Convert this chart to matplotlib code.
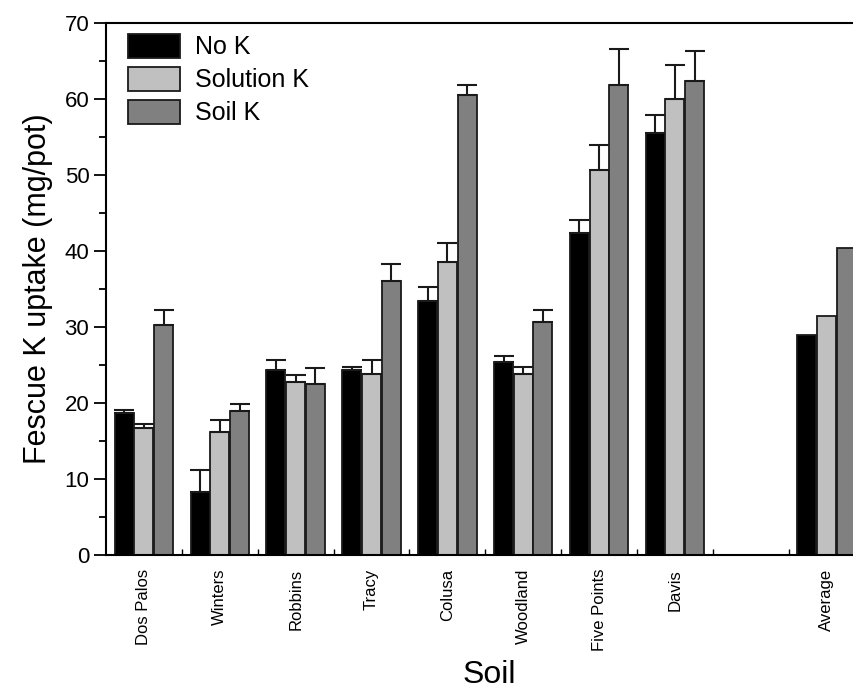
import matplotlib
matplotlib.use("Agg")
import matplotlib.pyplot as plt
import numpy as np

categories = ["Dos Palos", "Winters", "Robbins", "Tracy", "Colusa",
              "Woodland", "Five Points", "Davis", "Average"]
positions = [0, 1, 2, 3, 4, 5, 6, 7, 9]
no_k = [18.7, 8.3, 24.4, 24.4, 33.4, 25.4, 42.4, 55.5, 29.0]
solution_k = [16.7, 16.2, 22.7, 23.8, 38.6, 23.8, 50.7, 60.0, 31.5]
soil_k = [30.3, 18.9, 22.5, 36.0, 60.5, 30.7, 61.8, 62.4, 40.4]
# upper error bars (soils only, not the Average)
no_k_err = [0.4, 2.9, 1.2, 0.4, 1.8, 0.8, 1.7, 2.4]
solution_k_err = [0.5, 1.5, 1.0, 1.8, 2.4, 1.0, 3.2, 4.5]
soil_k_err = [2.0, 1.0, 2.1, 2.3, 1.3, 1.6, 4.8, 3.9]
series_names = ["No K", "Solution K", "Soil K"]

plt.rcParams['font.family'] = ['Liberation Sans', 'DejaVu Sans']

W, H = 854, 692
fig = plt.figure(figsize=(W / 100, H / 100), dpi=100)
left, right, top, bottom = 106, 854, 23, 555
ax = fig.add_axes([left / W, 1 - bottom / H, (right - left) / W, (bottom - top) / H])

colors = ["#000000", "#c0c0c0", "#808080"]
offsets = [-0.26, 0.0, 0.26]
width = 0.25
pos = np.array(positions, dtype=float)
data = [no_k, solution_k, soil_k]
errs = [no_k_err, solution_k_err, soil_k_err]
n_err = len(no_k_err)
for vals, err, c, off, name in zip(data, errs, colors, offsets, series_names):
    ax.bar(pos + off, vals, width=width, color=c, edgecolor="#1a1a1a",
           linewidth=1.3, label=name, zorder=2)
    ax.errorbar(pos[:n_err] + off, vals[:n_err],
                yerr=[np.zeros(n_err), err], fmt='none', ecolor="#1a1a1a",
                elinewidth=1.5, capsize=7.5, capthick=1.5, zorder=3)

ax.set_xlim(-0.5, 9.36)
ax.set_ylim(0, 70)

ax.set_xticks(positions)
ax.set_xticklabels(categories, rotation=90, fontsize=12)
ax.tick_params(axis='x', which='major', length=0, pad=10)
ax.set_xticks(np.arange(0.5, 9.0, 1.0), minor=True)
ax.tick_params(axis='x', which='minor', direction='in', length=4, width=1)

ax.set_yticks(np.arange(0, 71, 10))
ax.set_yticks(np.arange(5, 70, 10), minor=True)
ax.tick_params(axis='y', which='major', direction='out', length=9, width=1.3,
               labelsize=16, pad=3)
ax.tick_params(axis='y', which='minor', direction='out', length=5, width=1.3)

ax.spines['right'].set_visible(False)
for s in ['left', 'bottom', 'top']:
    ax.spines[s].set_linewidth(1.5)

ax.set_ylabel("Fescue K uptake (mg/pot)", fontsize=22, labelpad=8)
ax.set_xlabel("Soil", fontsize=23)
ax.xaxis.set_label_coords(0.512, -0.197)

leg = ax.legend(loc='upper left', bbox_to_anchor=(0.029, 0.98), frameon=False,
                fontsize=18, handlelength=2.1, handleheight=1.1,
                handletextpad=0.6, labelspacing=0.3, borderpad=0,
                borderaxespad=0)

fig.savefig("out.png", dpi=100)
